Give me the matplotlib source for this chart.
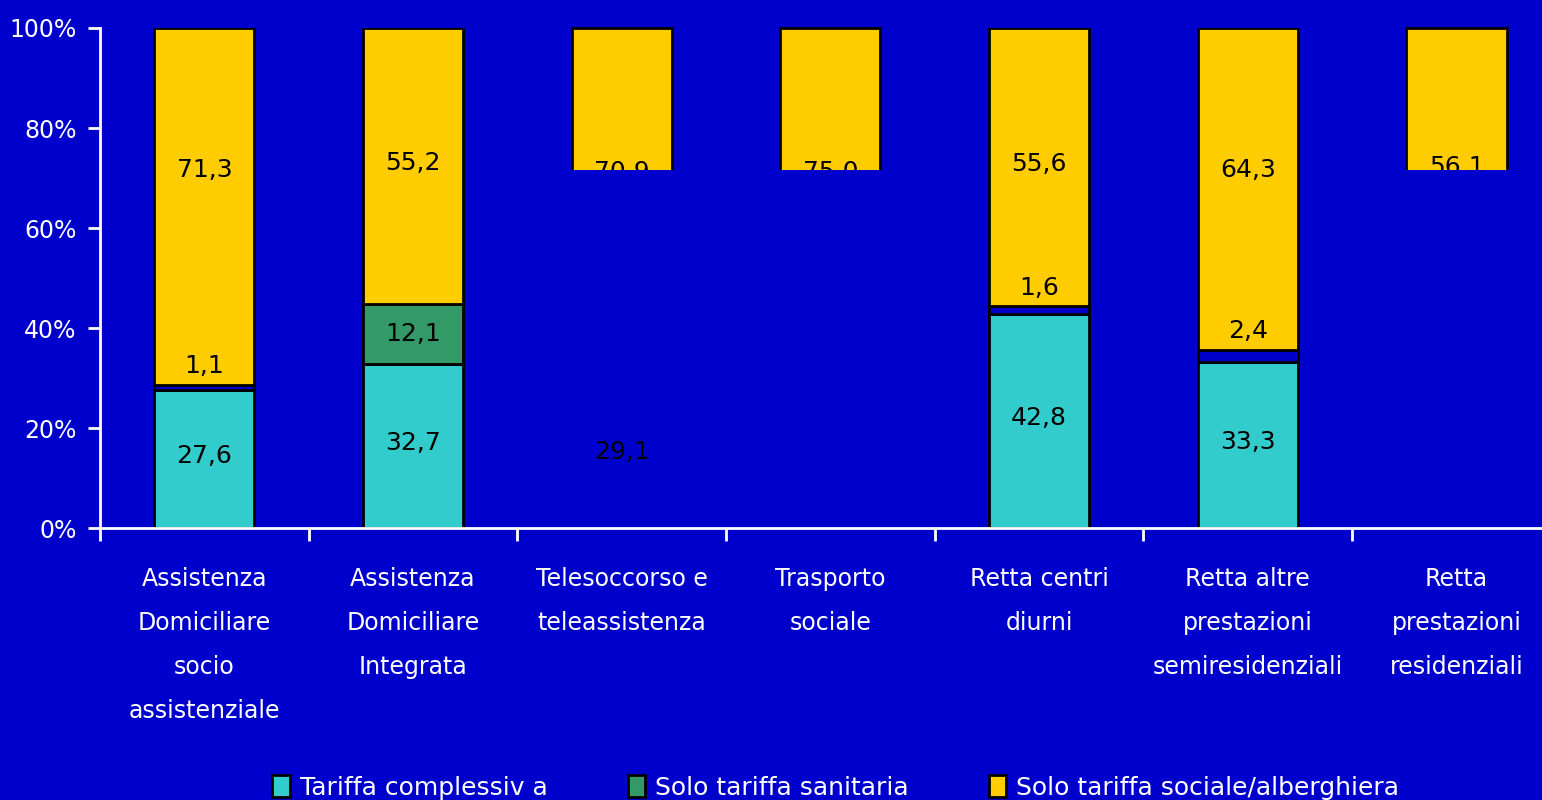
import numpy as np
import matplotlib.pyplot as plt
from matplotlib.patches import Rectangle

# data
categories = ["Assistenza\nDomiciliare\nsocio\nassistenziale",
              "Assistenza\nDomiciliare\nIntegrata",
              "Telesoccorso e\nteleassistenza",
              "Trasporto\nsociale",
              "Retta centri\ndiurni",
              "Retta altre\nprestazioni\nsemiresidenziali",
              "Retta\nprestazioni\nresidenziali"]
tariffa_complessiva = [27.6, 32.7, 29.1, np.nan, 42.8, 33.3, np.nan]
solo_sanitaria = [1.1, 12.1, np.nan, np.nan, 1.6, 2.4, np.nan]
solo_sociale = [71.3, 55.2, 70.9, 75.0, 55.6, 64.3, 56.1]
series_names = ["Tariffa complessiv a", "Solo tariffa sanitaria",
                "Solo tariffa sociale/alberghiera"]
# bars that come out cut off in the original rendering
clipped = [False, False, True, True, False, False, True]
clip_level = 71.6

BG = '#0000CC'
C_CYAN = '#33CCCC'
C_GREEN = '#339966'
C_YELLOW = '#FFCC00'
FONT = 'DejaVu Sans'

plt.rcParams['font.family'] = FONT

fig = plt.figure(figsize=(15.42, 8), dpi=100, facecolor=BG)
ax = fig.add_axes([100 / 1542, 272 / 800, 1442 / 1542, 500 / 800])
ax.set_facecolor(BG)

x = np.arange(len(categories))
width = 0.48
lab_kw = dict(ha='center', va='center', fontsize=18, color='black')


def fmt(v):
    return f"{v:.1f}".replace('.', ',')


for i in x:
    c = tariffa_complessiva[i]
    s = solo_sanitaria[i]
    y = solo_sociale[i]
    base = 0.0 if np.isnan(c) else c
    mid = 0.0 if np.isnan(s) else s
    if clipped[i]:
        clip = Rectangle((i - 0.6, clip_level), 1.2, 40, transform=ax.transData)
        bar = ax.bar(i, y, bottom=100 - y, width=width, color=C_YELLOW,
                     edgecolor='black', linewidth=2)[0]
        bar.set_clip_path(clip)
        t = ax.text(i, max(100 - y / 2, 71) + 0.3, fmt(y), **lab_kw)
        t.set_clip_path(clip)
        t.set_clip_on(True)
        if not np.isnan(c):
            ax.text(i, c / 2 + 0.6, fmt(c), **lab_kw)
        continue
    ax.bar(i, base, width=width, color=C_CYAN, edgecolor='black', linewidth=2)
    ax.text(i, base / 2 + 0.6, fmt(c), **lab_kw)
    small = mid < 5
    ax.bar(i, mid, bottom=base, width=width,
           color=BG if small else C_GREEN, edgecolor='black', linewidth=2)
    if small:
        ax.text(i, base + mid + 3.7, fmt(s), **lab_kw)
    else:
        ax.text(i, base + mid / 2, fmt(s), **lab_kw)
    ax.bar(i, y, bottom=base + mid, width=width, color=C_YELLOW,
           edgecolor='black', linewidth=2)
    ax.text(i, max(base + mid + y / 2, 71) + 0.5, fmt(y), **lab_kw)

ax.set_xlim(-0.5, 6.41)
ax.set_ylim(0, 100)
ax.set_yticks(np.arange(0, 101, 20))
ax.set_yticklabels([f"{v}%" for v in range(0, 101, 20)])
ax.set_xticks(x)
ax.set_xticklabels(categories, linespacing=2.05, va='top')
ax.set_xticks(np.arange(-0.5, 6.5, 1), minor=True)
ax.tick_params(axis='x', which='major', length=0, pad=28, colors='white', labelsize=17)
ax.tick_params(axis='x', which='minor', length=9, width=2, color='white')
ax.tick_params(axis='y', length=9, width=2, colors='white', labelsize=17, pad=8)
for side in ['top', 'right']:
    ax.spines[side].set_visible(False)
for side in ['left', 'bottom']:
    ax.spines[side].set_color('white')
    ax.spines[side].set_linewidth(2)

handles = [Rectangle((0, 0), 1, 1, facecolor=col, edgecolor='black', linewidth=2)
           for col in [C_CYAN, C_GREEN, C_YELLOW]]
leg = fig.legend(handles, series_names, loc='center', ncol=3,
                 bbox_to_anchor=(0.542, 0.016), frameon=False, fontsize=18,
                 handlelength=0.7, handleheight=1.0, handletextpad=0.4,
                 columnspacing=3.2, labelcolor='white')

fig.savefig('out.png', dpi=100, facecolor=BG)
